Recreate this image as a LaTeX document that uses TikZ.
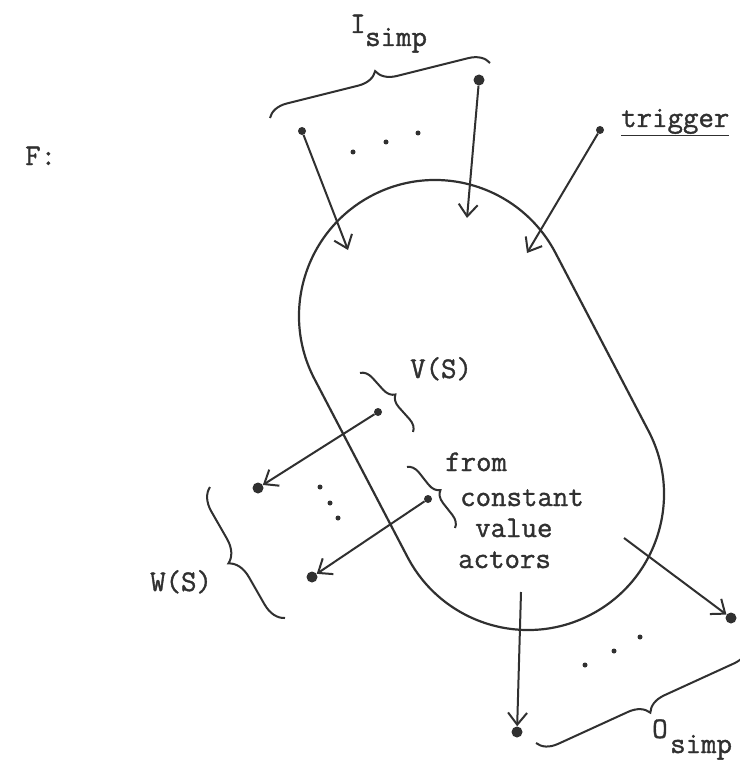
\documentclass[tikz,border=0pt]{standalone}
\usepackage{fontspec}
\newfontfamily\twfont{Latin Modern Mono}[FakeBold=1.2]
\usetikzlibrary{arrows.meta,decorations.pathreplacing,calc}
\definecolor{ink}{HTML}{303030}
\begin{document}
\begin{tikzpicture}[x=1pt,y=-1pt,
  every node/.style={font=\fontsize{30}{34}\selectfont\twfont, text=ink, inner sep=0pt},
  pdot/.style={circle, fill=ink, inner sep=0pt, minimum size=8pt},
  bdot/.style={circle, fill=ink, inner sep=0pt, minimum size=11pt},
  tdot/.style={circle, fill=ink, inner sep=0pt, minimum size=5pt},
  wire/.style={draw=ink, line width=2pt, -{Straight Barb[length=12pt,width=19pt]}},
  curly/.style={draw=ink, line width=2pt, decorate, decoration={brace, amplitude=#1}},
  outline/.style={draw=ink, line width=2.2pt},
  lbl/.style={anchor=base west}]
\useasboundingbox[fill=white] (0,0) rectangle (739,762);

% capsule
\coordinate (c1) at (435,316);
\coordinate (c2) at (528,494);
\draw[outline] ($(c1)+(-27.6:136)$) -- ($(c2)+(-27.6:136)$)
  arc[start angle=-27.6, end angle=152.4, radius=136]
  -- ($(c1)+(152.4:136)$)
  arc[start angle=152.4, end angle=332.4, radius=136] -- cycle;

% labels
\node[lbl] (F) at (25,165) {F:};
\node[lbl] (I) at (350,33) {I};
\node[lbl] (Is) at (365,46) {simp};
\node[lbl] (trig) at (621,127) {\underline{trigger}};
\node[lbl] (V) at (410,378) {V(S)};
\node[lbl] (l1) at (445,471) {from};
\node[lbl] (l2) at (460,506) {constant};
\node[lbl] (l3) at (475,537) {value};
\node[lbl] (l4) at (458,568) {actors};
\node[lbl] (W) at (150,591) {W(S)};
\node[lbl] (O) at (652,738) {O};
\node[lbl] (Os) at (670,753) {simp};

% input dots and arrows
\node[pdot] (i1) at (302,131) {};
\coordinate (i1t) at (348,250);
\node[bdot] (i2) at (479,80) {};
\coordinate (i2t) at (467,218);
\node[pdot] (tr) at (600,130) {};
\coordinate (trt) at (527,253);
\draw[wire] (i1) -- (i1t);
\draw[wire] (i2) -- (i2t);
\draw[wire] (tr) -- (trt);
\node[tdot] (d1) at (353,152) {};
\node[tdot] (d2) at (386,142) {};
\node[tdot] (d3) at (418,133) {};

% constant value outputs
\node[pdot] (v1) at (378,412) {};
\node[bdot] (w1) at (258,488) {};
\node[pdot] (v2) at (428,499) {};
\node[bdot] (w2) at (312,577) {};
\draw[wire] (v1) -- (w1);
\draw[wire] (v2) -- (w2);
\node[tdot] (e1) at (320,487) {};
\node[tdot] (e2) at (330,503) {};
\node[tdot] (e3) at (338,518) {};

% outputs
\coordinate (o1s) at (521,592);
\node[bdot] (o1) at (517,732) {};
\coordinate (o2s) at (624,538);
\node[bdot] (o2) at (731,618) {};
\draw[wire] (o1s) -- (o1);
\draw[wire] (o2s) -- (o2);
\node[tdot] (f1) at (585,665) {};
\node[tdot] (f2) at (614,651) {};
\node[tdot] (f3) at (640,637) {};

% braces
\draw[curly=20pt] (270,118) -- (490,63);
\draw[curly=20pt] (748,646) -- (536,743);
\draw[curly=12pt] (360,373) -- (413,432);
\draw[curly=12pt] (407,467) -- (455,528);
\draw[curly=22pt] (285,618) -- (210,487);
\end{tikzpicture}
\end{document}
